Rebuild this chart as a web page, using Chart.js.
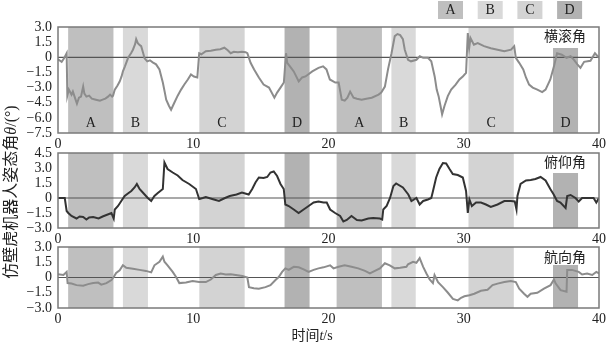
<!DOCTYPE html>
<html>
<head>
<meta charset="utf-8">
<script src="https://cdn.jsdelivr.net/npm/chart.js@4.4.0/dist/chart.umd.min.js"></script>
<style>
body { margin: 0; background: #fff; }
#wrap { position: relative; width: 609px; height: 343px; }
#wrap canvas { position: absolute; left: 0; top: 0; }
</style>
</head>
<body>
<div id="wrap">
<canvas id="roll" width="609" height="343"></canvas>
<canvas id="pitch" width="609" height="343"></canvas>
<canvas id="yaw" width="609" height="343"></canvas>
</div>
<script>
// 横滚角
const rollT = [0,0.27,0.45,0.64,0.69,0.8,1.0,1.1,1.3,1.4,1.55,1.7,1.86,1.95,2.1,2.3,2.5,2.8,3.1,3.3,3.5,3.7,3.85,4.0,4.07,4.2,4.4,4.56,4.7,4.8,4.95,5.17,5.3,5.4,5.54,5.7,5.78,5.9,6.05,6.15,6.3,6.4,6.6,6.8,7.0,7.25,7.5,7.75,7.9,8.0,8.2,8.36,8.6,8.85,9.1,9.34,9.6,9.83,10.05,10.3,10.44,10.6,10.93,11.3,11.67,12.0,12.3,12.55,12.77,13.0,13.3,13.6,13.87,14.0,14.24,14.5,14.85,15.2,15.6,16.0,16.2,16.45,16.7,16.86,16.95,17.15,17.43,17.8,18.05,18.3,18.8,19.26,19.6,19.85,20.1,20.5,20.75,20.98,21.2,21.4,21.6,21.85,22.1,22.45,22.8,23.2,23.7,23.9,24.17,24.4,24.66,24.9,25.1,25.3,25.5,25.64,25.88,26.1,26.5,26.75,27.0,27.35,27.6,27.85,28.0,28.14,28.28,28.4,28.58,28.82,29.07,29.4,29.68,29.93,30.17,30.3,30.4,30.5,30.75,31.03,31.5,32.0,32.5,33.0,33.5,33.73,33.85,34.1,34.4,34.6,34.83,35.1,35.44,35.8,36.05,36.4,36.67,36.9,37.25,37.6,37.9,38.15,38.4,38.63,38.9,39.37,39.7,40.0];
const rollV = [-0.2,-0.45,-0.1,0.4,-3.8,-3.2,-3.7,-3.4,-4.2,-4.6,-4.0,-3.9,-2.9,-3.6,-3.9,-3.8,-4.1,-4.2,-4.3,-4.2,-4.1,-3.9,-3.7,-3.9,-3.8,-3.2,-2.8,-2.4,-1.9,-1.4,-0.9,-0.1,0.2,0.4,0.75,1.3,1.8,1.4,1.2,1.1,0.4,-0.1,-0.4,-0.3,-0.5,-0.7,-1.2,-2.5,-3.5,-4.2,-4.8,-5.2,-4.5,-3.8,-3.2,-2.7,-2.2,-1.7,-1.9,-2.0,0.4,0.3,0.6,0.65,0.75,0.8,0.95,0.7,0.4,0.55,0.5,0.55,0.5,0.4,-0.55,-1.2,-2.0,-2.7,-3.0,-4.0,-3.5,-3.0,-2.5,0.4,-0.55,-0.9,-1.4,-2.4,-2.0,-1.9,-1.4,-1.05,-0.9,-1.2,-2.2,-2.5,-2.5,-4.2,-4.3,-4.0,-3.4,-4.0,-4.1,-4.2,-4.1,-4.0,-3.7,-3.5,-2.9,-1.2,0.4,2.1,2.3,2.2,1.8,0.75,-0.25,-0.4,-0.25,0.1,-0.05,-0.05,-0.4,-1.9,-3.2,-3.85,-4.8,-5.65,-4.8,-3.85,-3.2,-2.7,-2.2,-1.9,-1.55,2.4,0.9,1.9,1.25,1.4,1.1,0.9,0.75,0.6,0.75,1.1,-0.05,-0.55,-1.2,-2.0,-2.7,-3.0,-3.2,-3.45,-3.2,-2.2,-0.9,0.4,0.25,-0.05,0.1,-0.25,-0.7,-1.05,-0.45,-0.35,0.4,-0.05];

// 俯仰角
const pitchT = [0,0.5,0.64,0.76,1.0,1.37,1.6,1.86,2.1,2.3,2.6,3.0,3.3,3.58,3.95,4.12,4.2,4.44,4.68,4.93,5.17,5.42,5.66,5.83,6.03,6.27,6.64,6.89,7.13,7.38,7.75,7.87,8.1,8.48,8.85,9.2,9.7,10.2,10.44,10.7,10.93,11.4,11.9,12.35,12.7,13.2,13.6,14.1,14.36,14.6,14.85,15.2,15.47,15.71,15.95,16.2,16.45,16.69,16.81,17.06,17.43,17.79,18.16,18.53,18.9,19.26,19.63,19.87,20.12,20.49,20.86,21.1,21.35,21.7,22.1,22.45,22.94,23.3,23.8,23.97,24.05,24.3,24.55,24.8,25.0,25.5,25.9,26.13,26.5,26.74,27.0,27.35,27.6,27.7,27.96,28.2,28.46,28.7,28.95,29.19,29.56,29.93,30.17,30.3,30.42,30.6,30.91,31.27,31.64,32.0,32.5,33.0,33.48,33.77,33.9,33.97,34.2,34.6,34.95,35.3,35.68,36.05,36.4,36.65,36.9,37.15,37.53,37.65,37.9,38.26,38.5,38.75,39.24,39.6,39.8,40.0];
const pitchV = [0.0,0.0,-1.3,-1.5,-1.8,-2.05,-1.85,-1.9,-2.15,-1.95,-1.9,-2.05,-1.85,-1.7,-1.5,-2.05,-1.15,-0.8,-0.3,0.2,0.45,0.7,1.05,1.4,0.9,0.55,0.0,-0.3,0.2,0.5,0.9,3.55,2.9,2.55,2.25,1.8,1.4,0.9,-0.1,0.0,0.1,-0.1,-0.3,0.0,0.2,0.35,0.55,0.35,0.9,1.55,2.05,2.0,2.1,2.55,2.65,2.2,1.4,0.9,-0.65,-0.8,-1.15,-1.5,-1.15,-0.8,-0.45,-0.35,-0.45,-0.45,-1.15,-1.5,-1.8,-2.35,-2.2,-1.8,-2.2,-2.25,-2.05,-2.0,-2.05,-2.15,-1.15,-0.8,0.0,1.2,1.45,1.05,0.35,-0.3,0.0,-0.65,-0.3,-0.15,0.0,0.55,2.05,2.9,3.5,3.45,2.9,2.4,2.3,2.05,0.7,-1.5,-0.15,-0.8,-0.45,-0.45,-0.65,-0.9,-0.65,-0.3,-0.3,-0.35,-1.15,0.2,1.4,1.75,1.8,1.9,2.1,1.75,0.9,0.35,-0.3,-0.45,-1.0,0.2,0.3,0.0,-0.35,0.0,0.0,0.0,-0.45,0.0];

// 航向角
const yawT = [0,0.4,0.64,0.71,1.0,1.37,1.86,2.23,2.6,2.97,3.2,3.58,3.95,4.12,4.3,4.56,4.8,5.05,5.54,6.03,6.5,6.89,7.13,7.5,7.75,7.87,8.1,8.48,8.73,8.97,9.46,9.95,10.44,10.93,11.3,11.67,12.03,12.4,12.77,13.14,13.63,14.0,14.12,14.48,14.85,15.34,15.71,16.08,16.32,16.57,16.81,17.06,17.43,17.8,18.16,18.53,18.9,19.26,19.63,20.12,20.37,20.74,21.2,21.7,22.2,22.7,23.06,23.43,23.8,24.17,24.53,24.9,25.3,25.76,25.88,26.25,26.5,26.74,27.0,27.24,27.48,27.72,27.84,28.1,28.46,28.83,29.2,29.56,29.8,30.05,30.42,30.78,31.27,31.76,32.13,32.5,33.0,33.48,33.85,34.1,34.46,34.71,34.95,35.44,35.93,36.42,36.67,36.8,37.16,37.6,37.65,38.0,38.5,38.75,39.12,39.5,39.8,40.0];
const yawV = [0.33,0.25,0.55,-0.55,-0.6,-0.75,-0.8,-0.65,-0.55,-0.5,-0.7,-0.55,-0.25,0.05,0.45,0.7,1.2,0.95,0.85,0.75,0.65,0.5,1.2,1.55,2.05,1.55,1.2,0.55,0.05,-0.55,-0.5,-0.35,-0.45,-0.45,-0.2,0.25,0.4,0.3,0.33,0.25,0.15,0.0,-0.95,-1.05,-1.1,-0.95,-0.75,-0.25,0.05,0.55,0.9,0.75,1.05,1.0,0.8,0.55,0.75,0.9,1.0,1.2,0.9,1.05,1.2,1.05,0.9,0.65,0.4,0.65,0.9,1.4,1.2,0.9,0.95,1.05,1.3,1.55,1.45,1.9,1.05,0.4,-0.2,-0.55,0.25,-0.45,-0.95,-1.5,-2.1,-2.25,-2.0,-1.85,-1.75,-1.6,-1.3,-1.2,-0.75,-0.6,-0.45,-0.35,-0.45,-1.1,-1.6,-1.9,-1.6,-1.5,-1.1,-0.75,-0.2,-0.6,-1.25,-1.4,0.75,0.75,0.55,0.3,0.4,0.25,0.55,0.4];

const xTicks = [0, 10, 20, 30, 40];
const rollTicks = [3, 1.5, 0, -1.5, -3, -4.5, -6, -7.5];
const pitchTicks = [4.5, 3, 1.5, 0, -1.5, -3];
const yawTicks = [3, 1.5, 0, -1.5, -3];

// 阶段
const phaseStart = [0.75, 4.8, 10.45, 16.75, 20.6, 24.65, 30.35, 36.6];
const phaseEnd = [4.1, 6.65, 13.8, 18.6, 23.95, 26.45, 33.7, 38.45];
const phaseName = ['A', 'B', 'C', 'D', 'A', 'B', 'C', 'D'];
const legendNames = ['A', 'B', 'C', 'D'];
const phaseColor = { A: '#bfbfbf', B: '#d9d9d9', C: '#d3d3d3', D: '#b2b2b2' };

const FONT = "'Liberation Serif','Noto Sans CJK SC',serif";

function fmt(v) {
  if (v === 0) return '0';
  return (v < 0 ? '\u2212' : '') + Math.abs(v).toFixed(1);
}

// draw text pieces, some italic, centred at (cx, cy)
function drawPieces(ctx, pieces, size, cx, cy, rot) {
  ctx.save();
  ctx.translate(cx, cy);
  ctx.rotate(rot);
  ctx.textBaseline = 'middle';
  ctx.textAlign = 'left';
  let w = 0;
  pieces.forEach(p => { ctx.font = (p[1] ? 'italic ' : '') + size + 'px ' + FONT; w += ctx.measureText(p[0]).width; });
  let x = -w / 2;
  pieces.forEach(p => {
    ctx.font = (p[1] ? 'italic ' : '') + size + 'px ' + FONT;
    ctx.fillText(p[0], x, 0);
    x += ctx.measureText(p[0]).width;
  });
  ctx.restore();
}

const panelPlugin = {
  id: 'panel',
  beforeDatasetsDraw(chart, args, o) {
    const { ctx, chartArea: a, scales: { x, y } } = chart;
    ctx.save();
    phaseStart.forEach((s, i) => {
      const x0 = x.getPixelForValue(s), x1 = x.getPixelForValue(phaseEnd[i]);
      ctx.fillStyle = phaseColor[phaseName[i]];
      ctx.fillRect(x0, a.top, x1 - x0, a.bottom - a.top);
    });
    ctx.fillStyle = '#fff';
    ctx.fillRect(a.right - 57, a.top, 56, o.boxH);
    const y0 = y.getPixelForValue(0);
    ctx.strokeStyle = '#555';
    ctx.lineWidth = 1.2;
    ctx.beginPath();
    ctx.moveTo(a.left, y0);
    ctx.lineTo(a.right, y0);
    ctx.stroke();
    ctx.fillStyle = '#222';
    ctx.font = '14px ' + FONT;
    ctx.textAlign = 'center';
    ctx.textBaseline = 'middle';
    ctx.fillText(o.name, a.right - 34, a.top + o.nameDy);
    if (o.letters) {
      phaseStart.forEach((s, i) => {
        const xc = (x.getPixelForValue(s) + x.getPixelForValue(phaseEnd[i])) / 2;
        ctx.fillText(phaseName[i], xc, a.bottom - 10);
      });
    }
    ctx.restore();
  },
  afterDatasetsDraw(chart) {
    const { ctx, chartArea: a } = chart;
    ctx.save();
    ctx.strokeStyle = '#7a7a7a';
    ctx.lineWidth = 1.5;
    ctx.strokeRect(a.left, a.top, a.right - a.left, a.bottom - a.top);
    ctx.restore();
  },
  afterDraw(chart, args, o) {
    const ctx = chart.ctx;
    if (o.legend) {
      ctx.save();
      ctx.font = '14px ' + FONT;
      ctx.textAlign = 'center';
      ctx.textBaseline = 'middle';
      legendNames.forEach((n, i) => {
        const lx = 438 + i * 39.7;
        ctx.fillStyle = phaseColor[n];
        ctx.fillRect(lx, 1, 25, 18);
        ctx.fillStyle = '#222';
        ctx.fillText(n, lx + 12.5, 10.5);
      });
      ctx.restore();
      ctx.fillStyle = '#222';
      drawPieces(ctx, [['仿壁虎机器人姿态角', false], ['θ', true], ['/(°)', false]], 16, 12, 192, -Math.PI / 2);
      drawPieces(ctx, [['时间', false], ['t', true], ['/s', false]], 14, 312, 336, 0);
    }
  }
};

function makeChart(id, T, V, color, ticks, padTop, padBottom, xH, opts) {
  return new Chart(document.getElementById(id), {
    type: 'line',
    data: {
      datasets: [{
        data: T.map((t, i) => ({ x: t, y: V[i] })),
        borderColor: color,
        borderWidth: 2,
        pointRadius: 0,
        tension: 0,
        fill: false
      }]
    },
    options: {
      responsive: false,
      animation: false,
      devicePixelRatio: 1,
      layout: { padding: { top: padTop, bottom: padBottom, left: 0, right: 7 } },
      plugins: { legend: { display: false }, tooltip: { enabled: false }, panel: opts },
      scales: {
        x: {
          type: 'linear',
          min: 0, max: 40,
          afterBuildTicks: s => { s.ticks = xTicks.map(v => ({ value: v })); },
          afterFit: s => { s.height = xH; },
          grid: { display: false, drawTicks: false },
          border: { display: false },
          ticks: { autoSkip: false, padding: 3, color: '#222', font: { family: FONT, size: 14 }, maxRotation: 0, callback: v => String(v) }
        },
        y: {
          min: ticks[ticks.length - 1], max: ticks[0],
          afterBuildTicks: s => { s.ticks = ticks.map(v => ({ value: v })); },
          afterFit: s => { s.width = 58; },
          grid: { display: false, drawTicks: false },
          border: { display: false },
          ticks: { autoSkip: false, padding: 6, color: '#222', font: { family: FONT, size: 14 }, callback: v => fmt(v) }
        }
      }
    },
    plugins: [panelPlugin]
  });
}

makeChart('roll', rollT, rollV, '#8c8c8c', rollTicks, 27, 192, 18, { name: '横滚角', boxH: 21, nameDy: 10, letters: true, legend: true });
makeChart('pitch', pitchT, pitchV, '#333333', pitchTicks, 153, 97, 18, { name: '俯仰角', boxH: 20, nameDy: 10, letters: false, legend: false });
makeChart('yaw', yawT, yawV, '#8c8c8c', yawTicks, 247, 0, 35, { name: '航向角', boxH: 18, nameDy: 11, letters: false, legend: false });
</script>
</body>
</html>
